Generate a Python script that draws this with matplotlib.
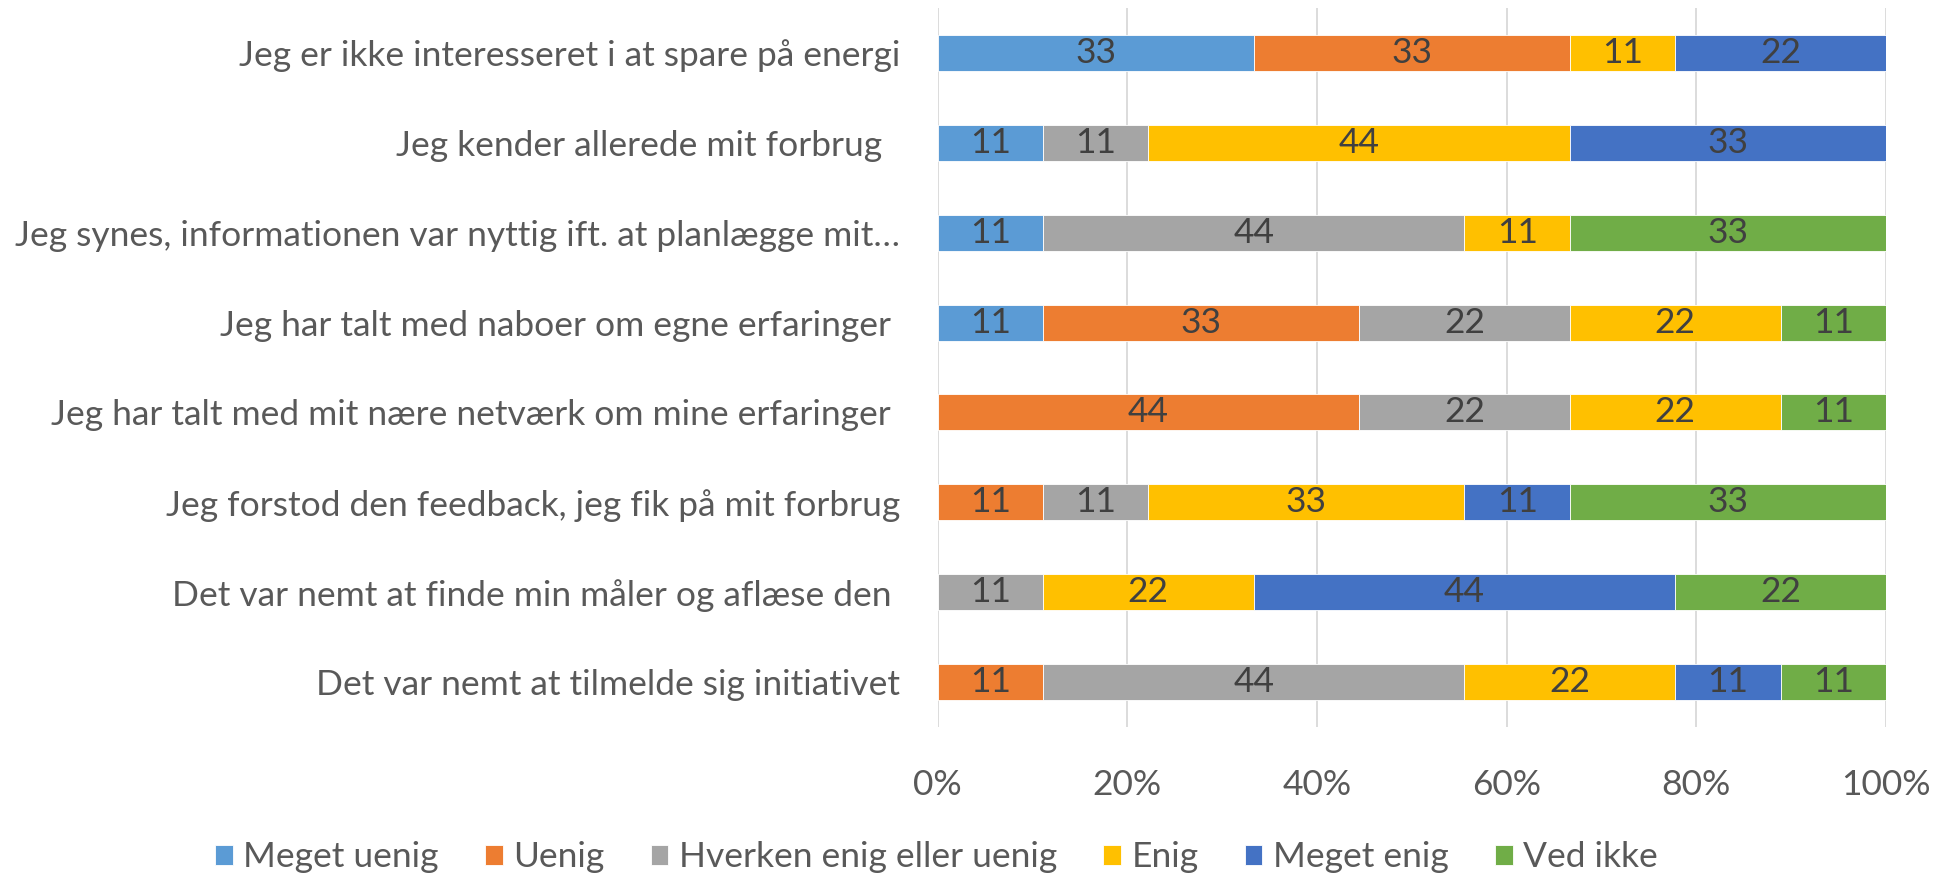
import matplotlib
matplotlib.use("Agg")
import matplotlib.pyplot as plt
import numpy as np

categories = [
    "Jeg er ikke interesseret i at spare på energi",
    "Jeg kender allerede mit forbrug  ",
    "Jeg synes, informationen var nyttig ift. at planlægge mit…",
    "Jeg har talt med naboer om egne erfaringer ",
    "Jeg har talt med mit nære netværk om mine erfaringer ",
    "Jeg forstod den feedback, jeg fik på mit forbrug",
    "Det var nemt at finde min måler og aflæse den ",
    "Det var nemt at tilmelde sig initiativet",
]
series_names = ["Meget uenig", "Uenig", "Hverken enig eller uenig", "Enig", "Meget enig", "Ved ikke"]
meget_uenig = [33, 11, 11, 11, 0, 0, 0, 0]
uenig       = [33, 0, 0, 33, 44, 11, 0, 11]
hverken     = [0, 11, 44, 22, 22, 11, 11, 44]
enig        = [11, 44, 11, 22, 22, 33, 22, 22]
meget_enig  = [22, 33, 0, 0, 0, 11, 44, 11]
ved_ikke    = [0, 0, 33, 11, 11, 33, 22, 11]
tick_labels = ["0%", "20%", "40%", "60%", "80%", "100%"]

colors = ["#5B9BD5", "#ED7D31", "#A5A5A5", "#FFC000", "#4472C4", "#70AD47"]

plt.rcParams['font.family'] = ['Lato', 'DejaVu Sans']

data = np.array([meget_uenig, uenig, hverken, enig, meget_enig, ved_ikke], dtype=float)
totals = data.sum(axis=0)
shares = data / totals * 100

fig = plt.figure(figsize=(19.39, 8.82), dpi=100)
ax = fig.add_axes([0.4835, 0.1757, 0.9727 - 0.4835, 0.991 - 0.1757])

y = np.arange(len(categories))
left = np.zeros(len(categories))
fs = 25.5
for i, name in enumerate(series_names):
    bars = ax.barh(y, shares[i], left=left, height=0.4, color=colors[i], label=name,
                   edgecolor="white", linewidth=0.6, zorder=3)
    for j, b in enumerate(bars):
        if data[i, j] > 0:
            ax.text(left[j] + shares[i, j] / 2, y[j], f"{int(data[i, j])}", ha="center", va="center",
                    fontsize=fs, color="#404040", zorder=4)
    left += shares[i]

ax.set_xlim(0, 100)
ax.set_ylim(len(categories) - 0.5, -0.5)
ax.set_yticks(y)
ax.set_yticklabels(categories, fontsize=fs, color="#595959")
ax.set_xticks([0, 20, 40, 60, 80, 100])
ax.set_xticklabels(tick_labels, fontsize=fs, color="#595959")
ax.tick_params(axis="both", length=0)
ax.tick_params(axis="y", pad=27)
ax.tick_params(axis="x", pad=30)
ax.grid(axis="x", color="#D9D9D9", linewidth=1.3, zorder=0)
for s in ax.spines.values():
    s.set_visible(False)

leg = fig.legend(loc="center", bbox_to_anchor=(0.483, 0.028), ncol=6, frameon=False,
                 fontsize=fs, labelcolor="#595959", handlelength=0.5, handleheight=0.5,
                 handletextpad=0.3, columnspacing=1.3)

fig.savefig("out.png", dpi=100)
